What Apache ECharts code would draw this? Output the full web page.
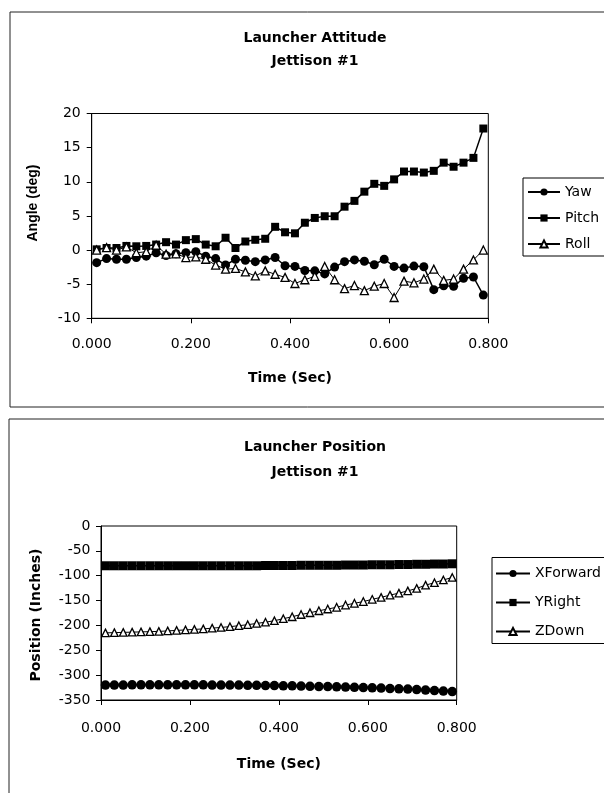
<!DOCTYPE html>
<html>
<head>
<meta charset="utf-8">
<script src="https://cdn.jsdelivr.net/npm/echarts@6/dist/echarts.min.js"></script>
<style>
  html, body { margin: 0; padding: 0; background: #fff; }
  #chart { width: 604px; height: 793px; }
</style>
</head>
<body>
<div id="chart"></div>
<script>
// Sample times (s), shared by both jettison plots
const timeSec = [0.01, 0.03, 0.05, 0.07, 0.09, 0.11, 0.13, 0.15, 0.17, 0.19,
                 0.21, 0.23, 0.25, 0.27, 0.29, 0.31, 0.33, 0.35, 0.37, 0.39,
                 0.41, 0.43, 0.45, 0.47, 0.49, 0.51, 0.53, 0.55, 0.57, 0.59,
                 0.61, 0.63, 0.65, 0.67, 0.69, 0.71, 0.73, 0.75, 0.77, 0.79];

// Launcher attitude (deg)
const yawDeg = [-1.85, -1.25, -1.35, -1.35, -1.1, -0.9, -0.4, -0.8, -0.55, -0.4,
                -0.25, -0.9, -1.25, -2.2, -1.35, -1.5, -1.7, -1.45, -1.1, -2.3,
                -2.4, -3.0, -3.05, -3.5, -2.5, -1.7, -1.45, -1.65, -2.15, -1.35,
                -2.4, -2.65, -2.35, -2.45, -5.8, -5.25, -5.3, -4.15, -3.95, -6.6];
const pitchDeg = [0.1, 0.3, 0.3, 0.6, 0.55, 0.6, 0.8, 1.15, 0.8, 1.45,
                  1.6, 0.8, 0.55, 1.8, 0.3, 1.25, 1.5, 1.65, 3.4, 2.6,
                  2.45, 4.0, 4.7, 4.95, 4.95, 6.35, 7.2, 8.55, 9.7, 9.4,
                  10.35, 11.5, 11.5, 11.35, 11.6, 12.8, 12.2, 12.8, 13.5, 17.8];
const rollDeg = [0.0, 0.35, 0.0, 0.45, -0.4, -0.25, 0.7, -0.6, -0.55, -1.1,
                 -1.0, -1.35, -2.2, -2.8, -2.7, -3.2, -3.8, -3.05, -3.55, -4.0,
                 -4.9, -4.35, -3.85, -2.4, -4.35, -5.65, -5.2, -5.95, -5.3, -4.9,
                 -6.95, -4.55, -4.8, -4.25, -2.8, -4.45, -4.25, -2.8, -1.45, 0.0];

// Launcher position (inches)
const xForwardIn = [-320, -320, -320, -319.5, -319.5, -319.5, -319.5, -319.5, -319.5, -319.5,
                    -319.5, -319.5, -320, -320, -320, -320, -320.5, -320.5, -321, -321,
                    -321.5, -321.5, -322, -322.5, -323, -323, -323.5, -324, -324.5, -325,
                    -325.5, -326, -327, -327.5, -328, -329, -330, -331, -332, -333];
const yRightIn = [-80, -80, -80, -80, -80, -80, -80, -80, -80, -80,
                  -80, -80, -80, -80, -80, -80, -80, -80, -79.5, -79.5,
                  -79.5, -79.5, -79, -79, -79, -79, -79, -78.5, -78.5, -78.5,
                  -78, -78, -78, -77.5, -77.5, -77, -77, -76.5, -76.5, -76];
const zDownIn = [-215, -214.5, -214, -213.5, -213, -212.5, -212, -211, -210, -209,
                 -208, -207, -205.5, -204, -202.5, -200.5, -198.5, -196, -193.5, -190.5,
                 -186.5, -182.5, -178, -174.5, -170.5, -167, -163.5, -159, -155.5, -152,
                 -147.5, -143.5, -139, -135, -130.5, -125.5, -119, -114, -108.5, -103.5];

// Axis ranges and tick spacing
const timeAxis = { min: 0, max: 0.8, step: 0.2 };
const angleAxis = { min: -10, max: 20, step: 5 };
const positionAxis = { min: -350, max: 0, step: 50 };

const FONT = '"DejaVu Sans", sans-serif';
const FONT_NARROW = '"Liberation Sans", Arial, sans-serif';
const INK = '#000';

function pairs(ys) { return timeSec.map((t, i) => [t, ys[i]]); }

function timeAxisDef(gridIndex, labelMargin, nameGap) {
  return {
    type: 'value', gridIndex,
    min: timeAxis.min, max: timeAxis.max, interval: timeAxis.step,
    name: 'Time (Sec)', nameLocation: 'middle', nameGap,
    nameTextStyle: { fontFamily: FONT, fontWeight: 'bold', fontSize: 14, color: INK },
    axisLine: { show: true, onZero: false, lineStyle: { color: INK, width: 1 } },
    axisTick: { show: true, inside: false, length: 5, lineStyle: { color: INK } },
    axisLabel: { margin: labelMargin, fontFamily: FONT, fontSize: 14, color: INK,
                 formatter: v => v.toFixed(3) },
    splitLine: { show: false }
  };
}

function valueAxisDef(gridIndex, range, labelMargin) {
  return {
    type: 'value', gridIndex,
    min: range.min, max: range.max, interval: range.step,
    axisLine: { show: true, onZero: false, lineStyle: { color: INK, width: 1 } },
    axisTick: { show: true, inside: false, length: 5, lineStyle: { color: INK } },
    axisLabel: { margin: labelMargin, fontFamily: FONT, fontSize: 14, color: INK },
    splitLine: { show: false }
  };
}

function lineSeries(name, xi, ys, symbol, size, hollow, width) {
  return {
    type: 'line', name, xAxisIndex: xi, yAxisIndex: xi,
    data: pairs(ys),
    symbol, symbolSize: size, showAllSymbol: true,
    lineStyle: { color: INK, width },
    itemStyle: { color: hollow ? '#fff' : INK, borderColor: INK, borderWidth: hollow ? 1.3 : 0 },
    emphasis: { disabled: true },
    animation: false
  };
}

const legendText = { fontFamily: FONT, fontSize: 14, color: INK };

const chart = echarts.init(document.getElementById('chart'), null, { renderer: 'canvas' });
chart.setOption({
  backgroundColor: '#fff',
  animation: false,
  title: [
    { text: 'Launcher Attitude\nJettison #1', left: 310, top: 22, textAlign: 'center',
      textStyle: { fontFamily: FONT, fontWeight: 'bold', fontSize: 14, lineHeight: 23, color: INK } },
    { text: 'Launcher Position\nJettison #1', left: 310, top: 430, textAlign: 'center',
      textStyle: { fontFamily: FONT, fontWeight: 'bold', fontSize: 14, lineHeight: 25, color: INK } }
  ],
  grid: [
    { left: 91.7, top: 113.5, right: 115.7, bottom: 474.7, show: true,
      borderColor: INK, borderWidth: 1, backgroundColor: '#fff' },
    { left: 101, top: 526, right: 147.3, bottom: 93, show: true,
      borderColor: INK, borderWidth: 1, backgroundColor: '#fff' }
  ],
  xAxis: [timeAxisDef(0, 19, 53), timeAxisDef(1, 21, 57)],
  yAxis: [valueAxisDef(0, angleAxis, 11), valueAxisDef(1, positionAxis, 10.5)],
  legend: [
    { data: ['Yaw', 'Pitch', 'Roll'], orient: 'vertical', left: 523, top: 178,
      padding: [7, 60, 5, 4], itemWidth: 32, itemHeight: 9, itemGap: 12,
      borderColor: INK, borderWidth: 1, textStyle: legendText, selectedMode: false },
    { data: ['XForward', 'YRight', 'ZDown'], orient: 'vertical', left: 492, top: 557.5,
      padding: [9, 60, 5, 3], itemWidth: 34, itemHeight: 9, itemGap: 15,
      borderColor: INK, borderWidth: 1, textStyle: legendText, selectedMode: false }
  ],
  series: [
    lineSeries('Yaw', 0, yawDeg, 'circle', 9, false, 1.5),
    lineSeries('Pitch', 0, pitchDeg, 'rect', 8, false, 1.5),
    lineSeries('Roll', 0, rollDeg, 'triangle', 8, true, 1),
    lineSeries('XForward', 1, xForwardIn, 'circle', 9.5, false, 1.5),
    lineSeries('YRight', 1, yRightIn, 'rect', 9, false, 1.5),
    lineSeries('ZDown', 1, zDownIn, 'triangle', 7.5, true, 1)
  ],
  graphic: [
    // outer frames of the two chart panels (right side runs off the page)
    { type: 'rect', z: -10, shape: { x: 10, y: 12, width: 640, height: 395 },
      style: { fill: '#fff', stroke: '#222', lineWidth: 1 } },
    { type: 'rect', z: -10, shape: { x: 9, y: 419, width: 640, height: 420 },
      style: { fill: '#fff', stroke: '#222', lineWidth: 1 } },
    // vertical axis titles
    { type: 'text', x: 33.5, y: 203, rotation: Math.PI / 2,
      style: { text: 'Angle (deg)', fontFamily: FONT_NARROW, fontWeight: 'bold', fontSize: 14,
               fill: INK, align: 'center', verticalAlign: 'middle' } },
    { type: 'text', x: 36.5, y: 615, rotation: Math.PI / 2,
      style: { text: 'Position (Inches)', fontFamily: FONT, fontWeight: 'bold', fontSize: 14,
               fill: INK, align: 'center', verticalAlign: 'middle' } }
  ]
});
</script>
</body>
</html>
